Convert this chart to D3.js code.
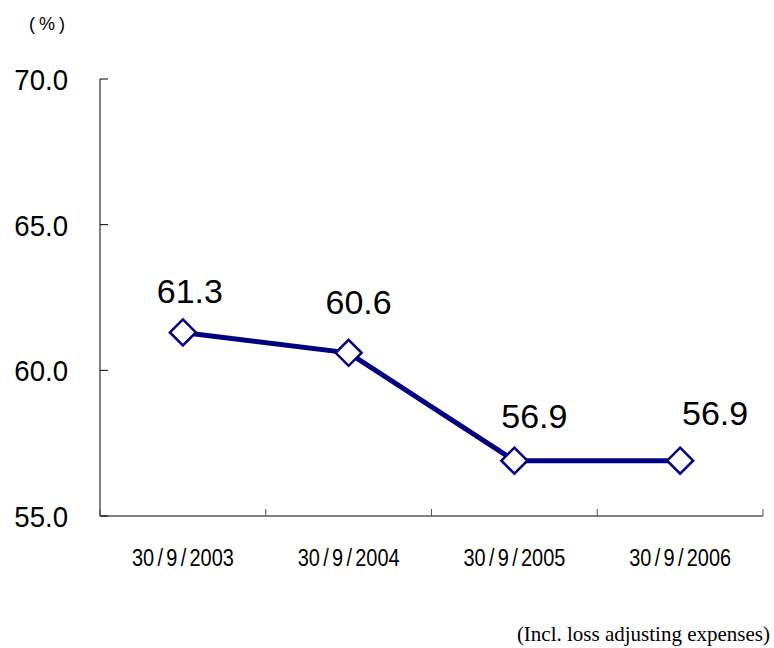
<!DOCTYPE html>
<html lang="en">
<head>
<meta charset="UTF-8">
<title>Loss ratio</title>
<style>
    body { margin: 0; background: #fff; }
    .ylab { font-family: "Liberation Sans", Arial, sans-serif; font-size: 30px; }
    .xlab { font-family: "Liberation Sans", Arial, sans-serif; font-size: 24px; }
    .val { font-family: "Liberation Sans", Arial, sans-serif; font-size: 34px; }
</style>
</head>
<body>
<svg width="774" height="648"></svg>
<script src="https://d3js.org/d3.v7.min.js"></script>
<script>
    const categories = ["30/9/2003", "30/9/2004", "30/9/2005", "30/9/2006"];
    const values = [61.3, 60.6, 56.9, 56.9];
    const yTicks = [55, 60, 65, 70];
    // label nudges (px) relative to the marker
    const labelDx = [7, 10, 20, 35];
    const labelDy = [-29, -39, -33, -36];

    const svg = d3.select("svg");
    const plotLeft = 100, plotRight = 763, plotTop = 79, plotBottom = 516;

    const x = d3.scaleBand().domain(categories).range([plotLeft, plotRight]);
    const y = d3.scaleLinear().domain([55, 70]).range([plotBottom, plotTop]);

    // y axis
    svg.append("line").attr("x1", plotLeft).attr("x2", plotLeft).attr("y1", plotTop).attr("y2", plotBottom).attr("stroke", "#000");
    svg.selectAll(".ytick").data(yTicks).enter().append("line")
        .attr("x1", plotLeft).attr("x2", plotLeft + 8)
        .attr("y1", d => y(d)).attr("y2", d => y(d))
        .attr("stroke", "#000");
    svg.selectAll(".ylab").data(yTicks).enter().append("text")
        .attr("class", "ylab")
        .attr("transform", d => `translate(68,${y(d) + 11}) scale(0.92,1)`)
        .attr("text-anchor", "end")
        .text(d => d.toFixed(1));

    // x axis
    svg.append("line").attr("x1", plotLeft).attr("x2", plotRight).attr("y1", plotBottom).attr("y2", plotBottom).attr("stroke", "#000");
    const edges = categories.map(c => x(c) + x.bandwidth()).concat([plotLeft]);
    svg.selectAll(".xtick").data(edges).enter().append("line")
        .attr("x1", d => d).attr("x2", d => d)
        .attr("y1", plotBottom).attr("y2", plotBottom - 7)
        .attr("stroke", "#555");

    // category labels: narrow-ish font, spaced slashes
    const xl = svg.selectAll(".xlab").data(categories).enter().append("text")
        .attr("class", "xlab")
        .attr("transform", d => `translate(${x(d) + x.bandwidth() / 2},566) scale(0.83,1)`)
        .attr("text-anchor", "middle");
    xl.each(function(d) {
        const parts = d.split("/");
        const t = d3.select(this);
        parts.forEach((p, i) => {
            if (i > 0) t.append("tspan").attr("dx", 4).text("/");
            t.append("tspan").attr("dx", i > 0 ? 4 : 0).text(p);
        });
    });

    const cx = (d, i) => x(categories[i]) + x.bandwidth() / 2;

    svg.append("path")
        .datum(values)
        .attr("fill", "none")
        .attr("stroke", "#000080")
        .attr("stroke-width", 5)
        .attr("d", d3.line().x(cx).y(d => y(d)));

    svg.selectAll(".mark").data(values).enter().append("path")
        .attr("transform", (d, i) => `translate(${cx(d, i)},${y(d)})`)
        .attr("d", "M0,-13L13,0L0,13L-13,0Z")
        .attr("fill", "#fff")
        .attr("stroke", "#000080")
        .attr("stroke-width", 2.5);

    svg.selectAll(".val").data(values).enter().append("text")
        .attr("class", "val")
        .attr("x", (d, i) => cx(d, i) + labelDx[i])
        .attr("y", (d, i) => y(d) + labelDy[i])
        .attr("text-anchor", "middle")
        .text(d => d.toFixed(1));

    svg.append("text")
        .attr("x", 49).attr("y", 30)
        .attr("text-anchor", "middle")
        .attr("font-family", "Liberation Sans, Arial, sans-serif")
        .attr("font-size", 18)
        .attr("letter-spacing", 4)
        .text("(%)");

    svg.append("text")
        .attr("x", 770).attr("y", 641)
        .attr("text-anchor", "end")
        .attr("font-family", "Liberation Serif, Times New Roman, serif")
        .attr("font-size", 21)
        .text("(Incl. loss adjusting expenses)");
</script>
</body>
</html>
